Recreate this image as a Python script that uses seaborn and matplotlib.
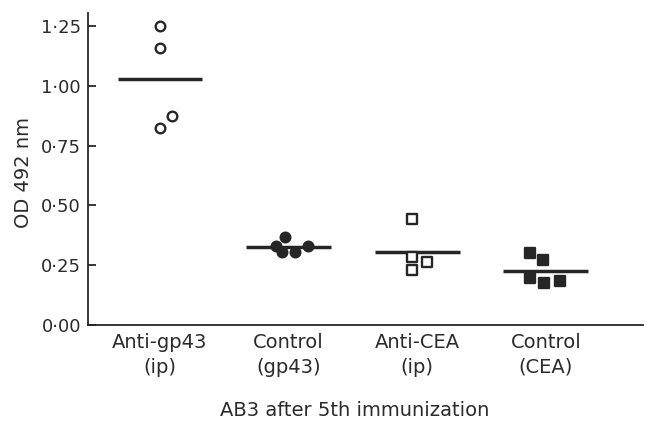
import numpy as np
import pandas as pd
import matplotlib
matplotlib.use("Agg")
import matplotlib.pyplot as plt
import seaborn as sns

# groups along the x axis
groups = ["Anti-gp43\n(ip)", "Control\n(gp43)", "Anti-CEA\n(ip)", "Control\n(CEA)"]

# OD 492 nm readings per group
anti_gp43 = [1.25, 1.158, 0.874, 0.824]
control_gp43 = [0.368, 0.330, 0.305, 0.305, 0.330]
anti_cea = [0.443, 0.284, 0.263, 0.230]
control_cea = [0.300, 0.270, 0.196, 0.175, 0.184]

# small horizontal spread of the points inside each group
spread_gp43 = [0.0, 0.0, 0.09, 0.0]
spread_ctrl_gp43 = [-0.03, -0.10, -0.05, 0.05, 0.15]
spread_cea = [-0.04, -0.04, 0.08, -0.04]
spread_ctrl_cea = [-0.12, -0.02, -0.12, -0.01, 0.11]

yticks = [0.0, 0.25, 0.5, 0.75, 1.0, 1.25]

sns.set_theme(style="white")
plt.rcParams["font.family"] = ["DejaVu Sans"]

ink = "#262626"
text_col = "#2b2b2b"

fig = plt.figure(figsize=(6.5, 4.34), dpi=100)
ax = fig.add_axes([0.1354, 0.2512, 0.989 - 0.1354, 0.970 - 0.2512])

values = [anti_gp43, control_gp43, anti_cea, control_cea]
spreads = [spread_gp43, spread_ctrl_gp43, spread_cea, spread_ctrl_cea]
markers = ["o", "o", "s", "s"]
filled = [False, True, False, True]

for i, (vals, sp) in enumerate(zip(values, spreads)):
    xs = [i + d for d in sp]
    size = 48 if markers[i] == "o" else 46
    sns.scatterplot(
        x=xs, y=vals, ax=ax, marker=markers[i], s=size,
        facecolor=ink if filled[i] else "white",
        edgecolor=ink, linewidth=1.7, zorder=3, legend=False,
    )
    m = np.mean(vals)
    ax.hlines(m, i - 0.33, i + 0.33, color=ink, linewidth=2.5, zorder=2)

ax.set_xlim(-0.56, 3.755)
ax.set_ylim(0, 1.304)
ax.set_xticks(range(len(groups)))
ax.set_xticklabels(groups, fontsize=14, color=text_col, linespacing=1.35)
ax.set_yticks(yticks)
ax.set_yticklabels([f"{v:.2f}".replace(".", "\u00b7") for v in yticks], fontsize=13, color=text_col)

ax.tick_params(axis="y", direction="in", length=6, width=1.3, color=ink, pad=5, left=True)
ax.tick_params(axis="x", length=0, pad=6)

for side in ["top", "right"]:
    ax.spines[side].set_visible(False)
for side in ["left", "bottom"]:
    ax.spines[side].set_color(ink)
    ax.spines[side].set_linewidth(1.3)

ax.set_ylabel("OD 492 nm", fontsize=14, color=text_col)
ax.yaxis.set_label_coords(-0.099, 0.49)
ax.set_xlabel("AB3 after 5th immunization", fontsize=14, color=text_col)
ax.xaxis.set_label_coords(0.48, -0.245)

fig.savefig("out.png", dpi=100)
